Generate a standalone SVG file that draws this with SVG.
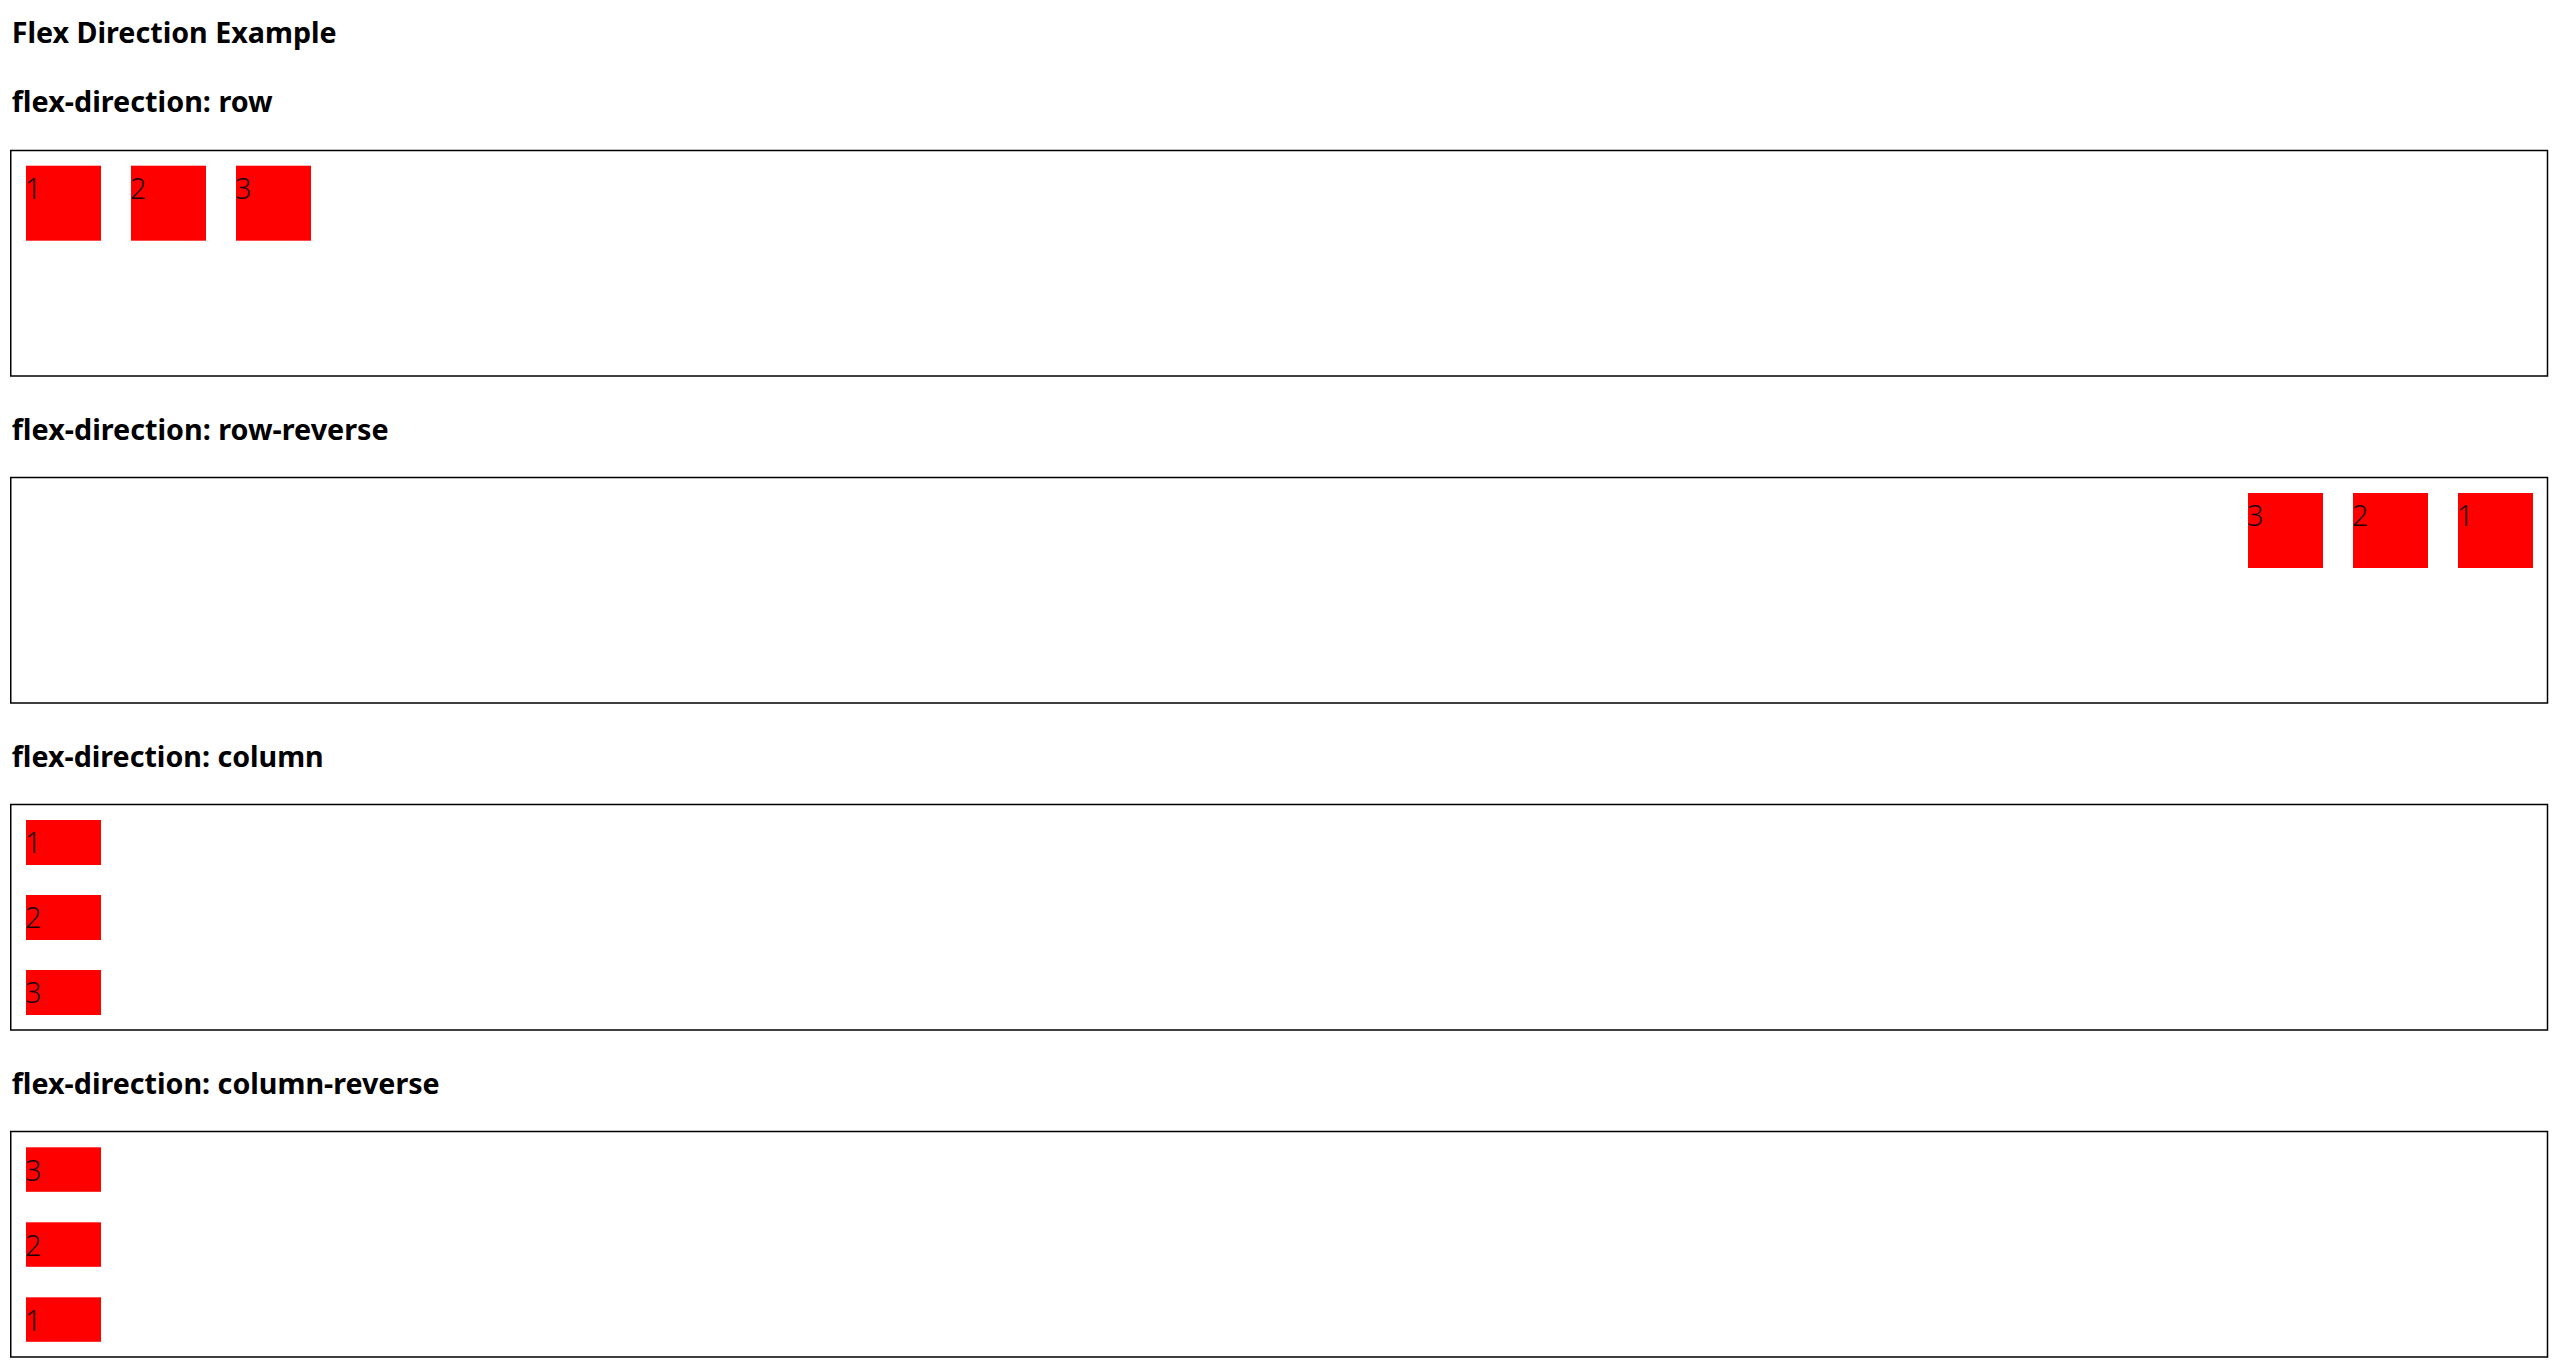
<svg xmlns="http://www.w3.org/2000/svg" width="2557" height="1372" viewBox="0 0 2557 1372">
<style>
.h{font-family:"Noto Sans","Liberation Sans",sans-serif;font-weight:bold;font-size:29px;fill:#000}
.box{fill:none;stroke:#000;stroke-width:1.5}
.item{fill:#ff0000}
.n{font-family:"Noto Sans","Liberation Sans",sans-serif;font-size:29px;font-weight:300;fill:#1a0000}
</style>
<rect width="2557" height="1372" fill="#fff"/>
<text class="h" x="11.7" y="42.7" textLength="325" lengthAdjust="spacingAndGlyphs">Flex Direction Example</text>

<g id="section-row">
<text class="h" x="11.7" y="112" textLength="261" lengthAdjust="spacingAndGlyphs">flex-direction: row</text>
<rect class="box" x="10.75" y="150.5" width="2536.75" height="225.5"/>
<g id="row-1"><rect class="item" x="26" y="165.7" width="75" height="75"/><text class="n" x="25" y="199">1</text></g>
<g id="row-2"><rect class="item" x="131" y="165.7" width="75" height="75"/><text class="n" x="130" y="199">2</text></g>
<g id="row-3"><rect class="item" x="236" y="165.7" width="75" height="75"/><text class="n" x="235" y="199">3</text></g>
</g>

<g id="section-row-reverse">
<text class="h" x="11.7" y="440" textLength="377" lengthAdjust="spacingAndGlyphs">flex-direction: row-reverse</text>
<rect class="box" x="10.75" y="477.5" width="2536.75" height="225.5"/>
<g id="rr-3"><rect class="item" x="2248" y="493" width="75" height="75"/><text class="n" x="2247" y="526.3">3</text></g>
<g id="rr-2"><rect class="item" x="2353" y="493" width="75" height="75"/><text class="n" x="2352" y="526.3">2</text></g>
<g id="rr-1"><rect class="item" x="2458" y="493" width="75" height="75"/><text class="n" x="2457" y="526.3">1</text></g>
</g>

<g id="section-column">
<text class="h" x="11.7" y="767.3" textLength="312" lengthAdjust="spacingAndGlyphs">flex-direction: column</text>
<rect class="box" x="10.75" y="804.5" width="2536.75" height="225.5"/>
<g id="col-1"><rect class="item" x="26" y="820" width="75" height="45"/><text class="n" x="25" y="853.3">1</text></g>
<g id="col-2"><rect class="item" x="26" y="895" width="75" height="45"/><text class="n" x="25" y="928.3">2</text></g>
<g id="col-3"><rect class="item" x="26" y="970" width="75" height="45"/><text class="n" x="25" y="1003.3">3</text></g>
</g>

<g id="section-column-reverse">
<text class="h" x="11.7" y="1093.5" textLength="428" lengthAdjust="spacingAndGlyphs">flex-direction: column-reverse</text>
<rect class="box" x="10.75" y="1131.5" width="2536.75" height="225.5"/>
<g id="cr-3"><rect class="item" x="26" y="1147.3" width="75" height="44.5"/><text class="n" x="25" y="1180.6">3</text></g>
<g id="cr-2"><rect class="item" x="26" y="1222.3" width="75" height="44.5"/><text class="n" x="25" y="1255.6">2</text></g>
<g id="cr-1"><rect class="item" x="26" y="1297.3" width="75" height="44.5"/><text class="n" x="25" y="1330.6">1</text></g>
</g>
</svg>
